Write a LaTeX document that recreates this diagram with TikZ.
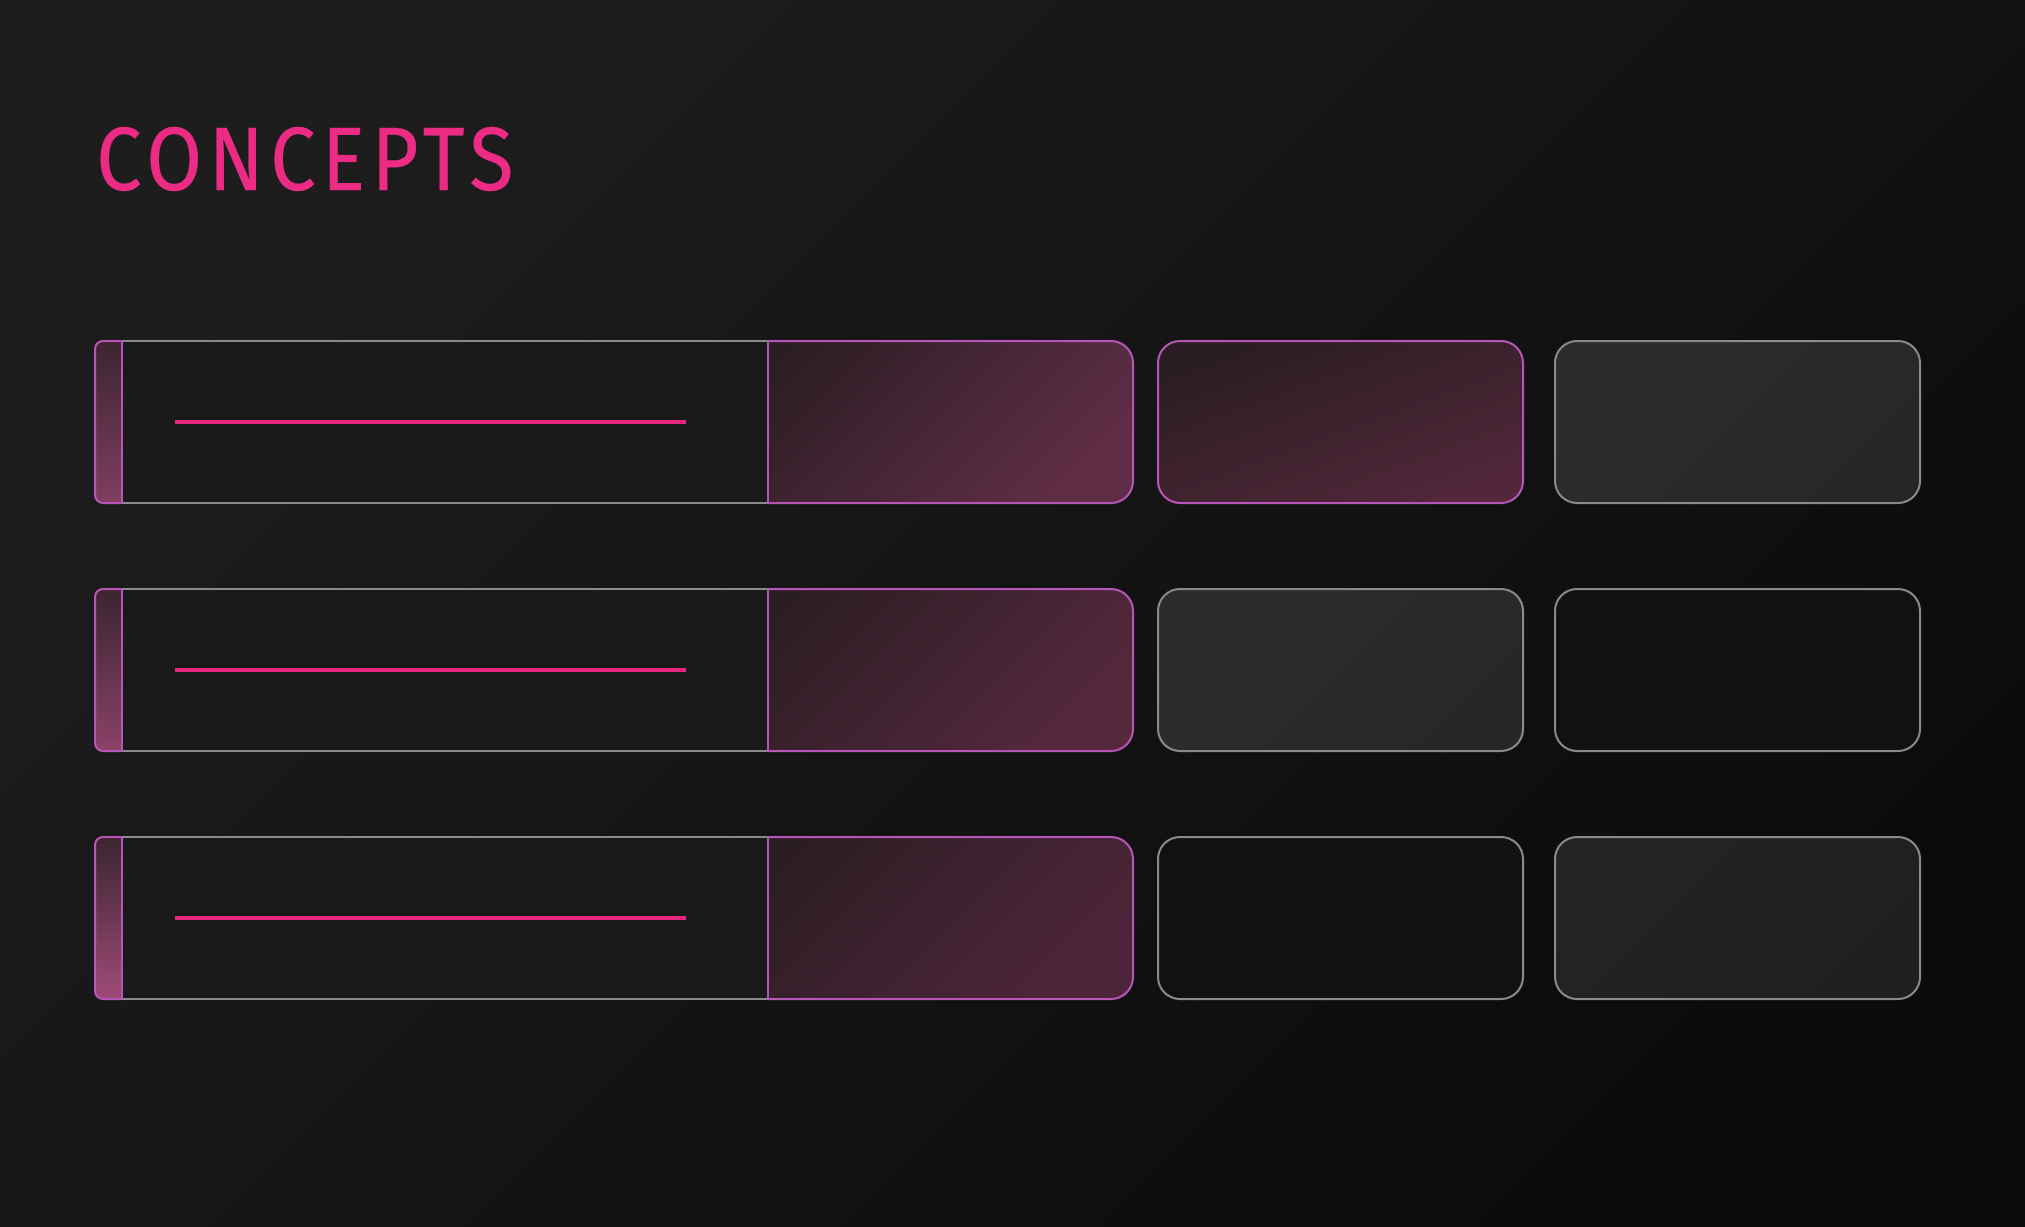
\documentclass[tikz,border=0pt]{standalone}
\usepackage{fontspec}
\newfontfamily\titlefont{Fira Sans}[FakeStretch=0.9,LetterSpace=7,FakeBold=0.3]
\definecolor{bgA}{HTML}{1D1D1D}
\definecolor{bgB}{HTML}{0B0B0B}
\definecolor{pinkt}{HTML}{EC2C84}
\definecolor{pinkl}{HTML}{E8287E}
\definecolor{purp}{HTML}{B855B8}
\definecolor{grayb}{HTML}{8A8A8A}
\definecolor{pkA}{HTML}{2A1D23}
\definecolor{pkB1}{HTML}{5F2D44}
\definecolor{pkB2}{HTML}{55283C}
\definecolor{pkB3}{HTML}{4E2538}
\definecolor{pkC}{HTML}{522739}
\definecolor{tabA}{HTML}{3B252F}
\definecolor{tabB1}{HTML}{803E60}
\definecolor{tabB2}{HTML}{8A4268}
\definecolor{tabB3}{HTML}{9E4B77}
\definecolor{leftfill}{HTML}{1A1A1A}
\definecolor{gLA}{HTML}{2C2C2C}
\definecolor{gLB}{HTML}{272727}
\definecolor{gD}{HTML}{111111}
\definecolor{gMA}{HTML}{242424}
\definecolor{gMB}{HTML}{1F1F1F}
\begin{document}
\begin{tikzpicture}[x=1pt,y=-1pt,
  boxbase/.style={rounded corners=22pt, line width=2pt, minimum width=365pt,
    minimum height=162pt, anchor=north west, inner sep=0pt, outer sep=0pt},
  graybox/.style={boxbase, draw=grayb},
  pinkbox/.style={boxbase, draw=purp, top color=pkA, bottom color=pkC, shading angle=20},
  bar/.style={line width=4pt, draw=pinkl},
  grayedge/.style={line width=2pt, draw=grayb},
  purpedge/.style={line width=2pt, draw=purp}]
\useasboundingbox (0,0) rectangle (2025,1226);
\shade[top color=bgA, bottom color=bgB, shading angle=45] (0,0) rectangle (2025,1226);

\node[anchor=base west, inner sep=0pt, text=pinkt, font=\titlefont\fontsize{90pt}{90pt}\selectfont] (title) at (96,190) {CONCEPTS};

% rows of the first column
\foreach \y/\tb/\pb [count=\i] in {341/tabB1/pkB1, 589/tabB2/pkB2, 837/tabB3/pkB3}{
  \fill[leftfill] (122,\y) rectangle (768,\y+162);
  \draw[grayedge] (122,\y) -- (768,\y);
  \draw[grayedge] (122,\y+162) -- (768,\y+162);
  \begin{scope}
    \clip (768,\y-10) rectangle (1150,\y+172);
    \shade[top color=pkA, bottom color=\pb, shading angle=45, rounded corners=22pt] (700,\y) rectangle (1133,\y+162);
    \draw[purpedge, rounded corners=22pt] (700,\y) rectangle (1133,\y+162);
  \end{scope}
  \draw[purpedge] (768,\y) -- (768,\y+162);
  \begin{scope}
    \clip (80,\y-10) rectangle (122,\y+172);
    \shade[top color=tabA, bottom color=\tb, rounded corners=8pt] (95,\y) rectangle (150,\y+162);
    \draw[purpedge, rounded corners=8pt] (95,\y) rectangle (150,\y+162);
  \end{scope}
  \draw[purpedge] (122,\y) -- (122,\y+162);
  \coordinate (bs\i) at (175,\y+81);
  \coordinate (be\i) at (686,\y+81);
  \draw[bar] (bs\i) -- (be\i);
}

% right boxes
\node[pinkbox] (b12) at (1158,341) {};
\node[graybox, top color=gLA, bottom color=gLB, shading angle=45] (b13) at (1555,341) {};
\node[graybox, top color=gLA, bottom color=gLB, shading angle=45] (b22) at (1158,589) {};
\node[graybox, fill=gD] (b23) at (1555,589) {};
\node[graybox, fill=gD] (b32) at (1158,837) {};
\node[graybox, top color=gMA, bottom color=gMB, shading angle=45] (b33) at (1555,837) {};
\end{tikzpicture}
\end{document}
